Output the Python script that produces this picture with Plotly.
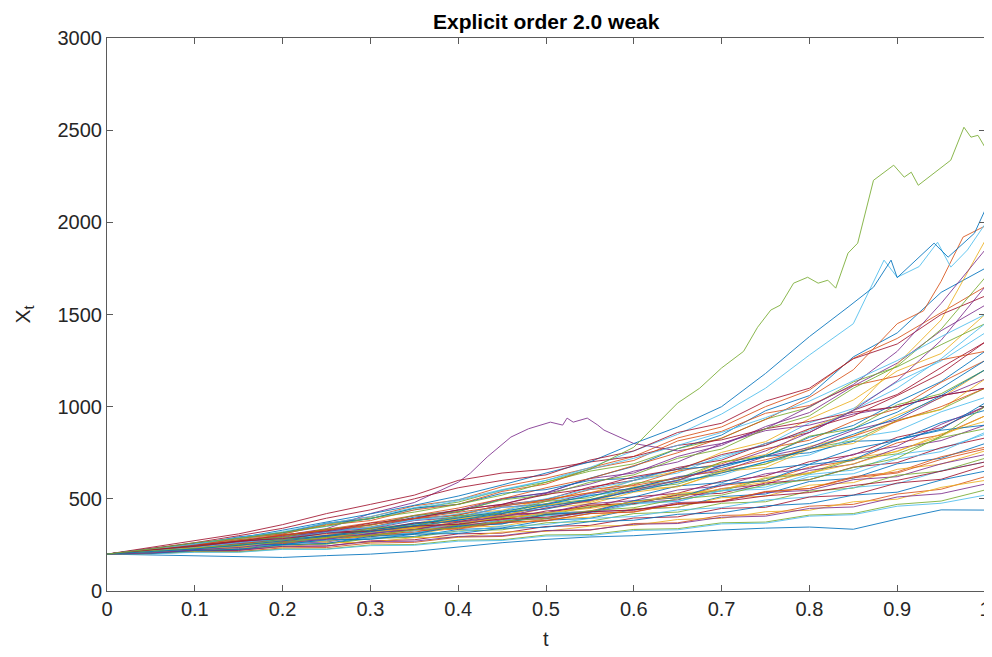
import plotly.graph_objects as go

# ---------------- data ----------------
T = [0.0, 0.05, 0.1, 0.15, 0.2, 0.25, 0.3, 0.35, 0.4, 0.45, 0.5,
     0.55, 0.6, 0.65, 0.7, 0.75, 0.8, 0.85, 0.9, 0.95, 1.0]

x_ticks = [0, 0.1, 0.2, 0.3, 0.4, 0.5, 0.6, 0.7, 0.8, 0.9, 1]
y_ticks = [0, 500, 1000, 1500, 2000, 2500, 3000]

# highlighted paths with their own time stamps
green_top_t = [0, 0.05, 0.1, 0.15, 0.2, 0.25, 0.3, 0.35, 0.4, 0.45, 0.5, 0.55, 0.6, 0.625,
               0.65, 0.675, 0.7, 0.725, 0.741, 0.756, 0.767, 0.782, 0.798, 0.81, 0.821, 0.83,
               0.844, 0.855, 0.873, 0.896, 0.908, 0.916, 0.924, 0.961, 0.976, 0.984, 0.992, 1.0]
green_top_x = [200, 228, 262, 285, 318, 352, 395, 428, 470, 520, 590, 660, 780, 900,
               1020, 1100, 1210, 1300, 1431, 1524, 1551, 1670, 1702, 1670, 1686, 1643,
               1833, 1887, 2228, 2310, 2245, 2272, 2201, 2337, 2516, 2462, 2472, 2407]

blue_top_t = [0, 0.05, 0.1, 0.15, 0.2, 0.25, 0.3, 0.35, 0.4, 0.45, 0.5, 0.55, 0.6, 0.65, 0.7,
              0.75, 0.8, 0.844, 0.873, 0.893, 0.9, 0.942, 0.958, 0.988, 1.0]
blue_top_x = [200, 228, 258, 288, 330, 372, 418, 465, 515, 575, 640, 700, 800, 890, 1000,
              1180, 1380, 1540, 1648, 1795, 1700, 1887, 1811, 1941, 2066]

cyan_top_t = [0, 0.05, 0.1, 0.15, 0.2, 0.25, 0.3, 0.35, 0.4, 0.45, 0.5, 0.55, 0.6, 0.65, 0.7,
              0.75, 0.8, 0.85, 0.885, 0.9, 0.925, 0.946, 0.961, 0.98, 1.0]
cyan_top_x = [200, 225, 250, 280, 315, 350, 395, 440, 490, 545, 600, 670, 760, 850, 960,
              1100, 1280, 1450, 1795, 1702, 1760, 1892, 1757, 1850, 1990]

red_top_t = [0, 0.05, 0.1, 0.15, 0.2, 0.25, 0.3, 0.35, 0.4, 0.45, 0.5, 0.55, 0.6, 0.65, 0.7,
             0.75, 0.8, 0.85, 0.9, 0.93, 0.95, 0.975, 1.0]
red_top_x = [200, 222, 248, 270, 300, 335, 370, 410, 450, 500, 560, 610, 680, 750, 830,
             930, 1050, 1200, 1450, 1520, 1680, 1920, 1980]

purple_hump_t = [0, 0.05, 0.1, 0.15, 0.2, 0.25, 0.3, 0.35, 0.4, 0.414, 0.433, 0.46, 0.48,
                 0.505, 0.519, 0.524, 0.531, 0.547, 0.559, 0.566, 0.6, 0.65, 0.7, 0.75,
                 0.8, 0.85, 0.9, 0.95, 1.0]
purple_hump_x = [200, 224, 246, 270, 302, 338, 420, 480, 590, 640, 727, 835, 880,
                 916, 900, 938, 916, 938, 900, 873, 800, 760, 800, 870,
                 900, 960, 1000, 1060, 1100]

bottom_blue_x = [200, 196, 192, 188, 182, 192, 200, 215, 240, 262, 280, 293, 300, 315,
                 331, 341, 347, 335, 390, 440, 439]

# bulk paths on the common time grid T
path_01 = [200, 222, 236, 268, 284, 326, 342, 401, 430, 498, 532, 612, 676, 772, 846, 978, 1060, 1270, 1400, 1620, 1750]
path_02 = [200, 228, 248, 290, 316, 366, 402, 462, 494, 566, 612, 668, 730, 830, 890, 1000, 1090, 1262, 1370, 1512, 1650]
path_03 = [200, 212, 242, 254, 288, 304, 342, 364, 418, 438, 498, 532, 600, 650, 752, 810, 934, 1036, 1194, 1288, 1500]
path_04 = [200, 224, 236, 272, 294, 334, 358, 408, 438, 502, 532, 610, 640, 730, 790, 892, 968, 1112, 1236, 1412, 1550]
path_05 = [200, 226, 246, 286, 308, 362, 392, 448, 482, 548, 590, 650, 690, 772, 828, 932, 996, 1134, 1216, 1336, 1450]
path_06 = [200, 210, 236, 250, 286, 300, 342, 360, 408, 434, 490, 522, 600, 640, 732, 790, 912, 990, 1134, 1248, 1400]
path_07 = [200, 220, 232, 264, 282, 324, 342, 392, 412, 468, 496, 564, 600, 670, 710, 800, 860, 980, 1066, 1212, 1350]
path_08 = [200, 208, 228, 242, 276, 288, 326, 344, 388, 408, 464, 492, 560, 600, 682, 730, 834, 898, 1024, 1136, 1300]
path_09 = [200, 224, 242, 276, 290, 332, 348, 392, 412, 464, 486, 550, 576, 650, 690, 772, 818, 922, 988, 1132, 1250]
path_10 = [200, 206, 226, 236, 268, 280, 318, 334, 380, 398, 450, 472, 536, 566, 642, 690, 784, 840, 954, 1048, 1200]
path_11 = [200, 222, 238, 268, 284, 322, 338, 382, 400, 454, 472, 530, 556, 620, 650, 730, 778, 872, 928, 1052, 1150]
path_12 = [200, 213, 236, 248, 282, 294, 334, 354, 400, 420, 474, 496, 556, 580, 652, 688, 774, 816, 926, 986, 1100]
path_13 = [200, 224, 236, 270, 284, 326, 344, 388, 402, 454, 470, 520, 540, 602, 628, 702, 738, 832, 868, 972, 1050]
path_14 = [200, 210, 232, 242, 272, 282, 318, 332, 372, 388, 434, 452, 510, 530, 596, 624, 702, 738, 834, 886, 1000]
path_15 = [200, 220, 234, 266, 276, 316, 328, 370, 384, 428, 444, 494, 510, 570, 588, 662, 688, 772, 816, 914, 980]
path_16 = [200, 208, 228, 236, 264, 272, 306, 318, 360, 372, 418, 434, 488, 506, 572, 598, 672, 708, 804, 846, 950]
path_17 = [200, 222, 234, 264, 270, 304, 314, 350, 360, 402, 416, 464, 478, 530, 548, 616, 642, 722, 756, 852, 920]
path_18 = [200, 206, 224, 230, 258, 266, 302, 312, 356, 366, 414, 426, 478, 494, 556, 578, 654, 688, 774, 816, 900]
path_19 = [200, 218, 230, 256, 264, 298, 308, 346, 356, 400, 410, 458, 470, 524, 542, 610, 636, 714, 744, 832, 880]
path_20 = [200, 208, 226, 234, 262, 270, 304, 314, 352, 364, 408, 420, 472, 486, 546, 564, 632, 656, 740, 772, 850]
path_21 = [200, 224, 240, 272, 284, 318, 328, 368, 376, 416, 424, 466, 474, 520, 530, 586, 604, 672, 696, 778, 830]
path_22 = [200, 204, 220, 224, 250, 256, 288, 296, 334, 342, 384, 394, 444, 454, 512, 526, 594, 612, 690, 720, 800]
path_23 = [200, 216, 226, 252, 256, 286, 294, 326, 336, 370, 380, 420, 428, 474, 486, 540, 556, 620, 646, 728, 780]
path_24 = [200, 210, 230, 238, 264, 270, 302, 308, 346, 352, 392, 400, 446, 454, 506, 514, 574, 588, 660, 688, 760]
path_25 = [200, 222, 236, 264, 270, 302, 310, 344, 348, 386, 392, 430, 438, 480, 486, 534, 546, 604, 620, 690, 740]
path_26 = [200, 206, 222, 226, 250, 254, 284, 292, 326, 332, 370, 378, 420, 428, 476, 484, 542, 558, 628, 650, 720]
path_27 = [200, 216, 224, 248, 250, 278, 284, 314, 320, 352, 360, 394, 404, 440, 452, 494, 510, 562, 582, 652, 700]
path_28 = [200, 204, 218, 220, 242, 244, 272, 278, 310, 314, 350, 356, 396, 402, 448, 454, 510, 520, 586, 606, 680]
path_29 = [200, 218, 226, 250, 252, 278, 280, 308, 312, 340, 346, 376, 384, 416, 424, 462, 474, 520, 536, 602, 650]
path_30 = [200, 203, 214, 214, 234, 236, 260, 264, 292, 296, 326, 330, 366, 370, 410, 414, 460, 470, 526, 552, 620]
path_31 = [200, 212, 216, 236, 238, 262, 264, 290, 292, 320, 324, 352, 356, 388, 394, 430, 438, 484, 498, 562, 600]
path_32 = [200, 206, 220, 222, 242, 244, 268, 270, 296, 300, 328, 332, 362, 366, 400, 406, 448, 456, 510, 528, 580]
path_33 = [200, 202, 212, 212, 228, 228, 250, 252, 276, 278, 304, 306, 334, 338, 370, 374, 412, 420, 470, 488, 548]
path_34 = [200, 201, 210, 210, 226, 226, 246, 248, 270, 274, 298, 300, 328, 332, 364, 368, 406, 414, 460, 476, 520]
path_35 = [200, 236, 270, 310, 360, 420, 470, 520, 600, 640, 660, 700, 730, 790, 820, 880, 920, 970, 1000, 1060, 1100]
path_36 = [200, 228, 252, 294, 316, 368, 392, 450, 470, 530, 550, 600, 612, 660, 680, 730, 750, 812, 820, 872, 900]
path_37 = [200, 226, 246, 286, 310, 358, 382, 440, 470, 540, 580, 662, 708, 814, 866, 964, 1006, 1114, 1166, 1254, 1300]
path_38 = [200, 212, 234, 246, 278, 290, 330, 342, 392, 404, 468, 486, 566, 594, 700, 740, 880, 980, 1230, 1470, 1900]
path_39 = [200, 220, 230, 258, 266, 300, 312, 352, 364, 408, 424, 474, 490, 548, 570, 636, 664, 742, 786, 904, 1000]
path_40 = [200, 210, 234, 246, 282, 294, 340, 354, 408, 422, 486, 506, 584, 610, 700, 730, 840, 880, 1010, 1070, 1200]
path_41 = [200, 210, 230, 238, 270, 278, 318, 326, 372, 378, 424, 430, 480, 486, 544, 552, 620, 636, 716, 756, 860]
path_42 = [200, 232, 262, 300, 340, 395, 440, 500, 560, 600, 630, 710, 760, 860, 910, 1030, 1100, 1260, 1340, 1500, 1600]
path_43 = [200, 204, 220, 226, 252, 258, 296, 310, 352, 364, 416, 428, 490, 506, 580, 598, 686, 712, 820, 878, 1020]
path_44 = [200, 220, 232, 260, 268, 296, 302, 334, 340, 374, 382, 420, 430, 474, 488, 538, 556, 614, 640, 714, 770]
path_45 = [200, 208, 230, 240, 276, 288, 332, 344, 396, 408, 468, 480, 550, 566, 648, 670, 770, 800, 924, 984, 1150]
path_46 = [200, 218, 244, 262, 296, 320, 360, 392, 440, 470, 530, 580, 650, 700, 800, 880, 1000, 1120, 1300, 1560, 1850]
path_47 = [200, 224, 240, 276, 292, 336, 356, 410, 432, 494, 520, 590, 630, 720, 770, 880, 950, 1100, 1220, 1420, 1700]
path_48 = [200, 216, 236, 262, 284, 318, 346, 384, 418, 460, 500, 552, 600, 664, 720, 800, 870, 980, 1100, 1260, 1450]
path_49 = [200, 222, 250, 270, 304, 326, 368, 394, 440, 470, 524, 556, 620, 660, 740, 790, 880, 950, 1060, 1180, 1350]
path_50 = [200, 210, 232, 250, 276, 300, 330, 362, 396, 432, 470, 516, 560, 614, 670, 736, 800, 880, 970, 1100, 1250]
path_51 = [200, 226, 248, 276, 300, 330, 360, 392, 424, 460, 494, 532, 570, 612, 660, 712, 770, 840, 920, 1000, 1100]
path_52 = [200, 214, 234, 250, 274, 292, 320, 340, 370, 392, 424, 448, 484, 512, 554, 590, 640, 690, 760, 840, 950]
path_53 = [200, 206, 224, 236, 262, 280, 312, 334, 374, 404, 450, 490, 548, 600, 680, 760, 860, 980, 1140, 1360, 1650]
path_54 = [200, 218, 230, 252, 262, 290, 300, 332, 344, 380, 394, 436, 452, 500, 520, 576, 604, 670, 720, 840, 1000]
path_55 = [200, 226, 254, 290, 322, 366, 404, 452, 496, 550, 600, 660, 720, 790, 860, 940, 1030, 1140, 1250, 1380, 1500]
path_56 = [200, 224, 242, 270, 284, 312, 324, 352, 362, 392, 400, 430, 440, 470, 484, 516, 534, 572, 600, 650, 700]
path_57 = [200, 212, 228, 248, 270, 296, 322, 352, 384, 420, 456, 496, 540, 590, 640, 700, 770, 850, 940, 1060, 1200]

bulk_paths = [path_01, path_02, path_03, path_04, path_05, path_06, path_07, path_08, path_09,
              path_10, path_11, path_12, path_13, path_14, path_15, path_16, path_17, path_18,
              path_19, path_20, path_21, path_22, path_23, path_24, path_25, path_26, path_27,
              path_28, path_29, path_30, path_31, path_32, path_33, path_34, path_35, path_36,
              path_37, path_38, path_39, path_40, path_41, path_42, path_43, path_44, path_45,
              path_46, path_47, path_48, path_49, path_50, path_51, path_52, path_53, path_54,
              path_55, path_56, path_57]

# ---------------- styling ----------------
MATLAB = ['#0072BD', '#D95319', '#EDB120', '#7E2F8E', '#77AC30', '#4DBEEE', '#A2142F']
AXIS_COLOR = '#5a5a5a'
FONT = 'Liberation Sans, Arial, Helvetica, sans-serif'

fig = go.Figure()


def add_line(t, x, color):
    fig.add_trace(go.Scatter(x=t, y=x, mode='lines',
                             line=dict(color=color, width=1),
                             opacity=0.85, showlegend=False, hoverinfo='skip'))


for i, p in enumerate(bulk_paths):
    add_line(T, p, MATLAB[i % len(MATLAB)])
    if i == 10:
        add_line(purple_hump_t, purple_hump_x, MATLAB[3])
    if i == 20:
        add_line(red_top_t, red_top_x, MATLAB[1])
    if i == 25:
        add_line(T, bottom_blue_x, MATLAB[0])
    if i == 30:
        add_line(cyan_top_t, cyan_top_x, MATLAB[5])
    if i == 35:
        add_line(blue_top_t, blue_top_x, MATLAB[0])
add_line(green_top_t, green_top_x, MATLAB[4])

axis_common = dict(showgrid=False, zeroline=False, showline=True, linecolor=AXIS_COLOR,
                   linewidth=1, mirror='ticks', ticks='inside', ticklen=6,
                   tickcolor=AXIS_COLOR, tickwidth=1, automargin=False,
                   tickfont=dict(family=FONT, size=20, color='#262626'))

# the page adds an 8 px body margin; plot area spans x 107..985, y 38..591 in the window
fig.update_layout(
    width=984, height=641,
    margin=dict(l=99, r=7, t=30, b=58),
    paper_bgcolor='white', plot_bgcolor='white',
    xaxis=dict(range=[0, 1], tickvals=x_ticks, ticktext=[f'{v:g}' for v in x_ticks],
               **axis_common),
    yaxis=dict(range=[0, 3000], tickvals=y_ticks, ticktext=[str(v) for v in y_ticks],
               **axis_common),
    annotations=[
        dict(text='<b>Explicit order 2.0 weak</b>', xref='paper', yref='paper',
             x=0.5, y=1, xanchor='center', yanchor='middle', yshift=17, showarrow=False,
             font=dict(family=FONT, size=21, color='#000000')),
        dict(text='t', xref='paper', yref='paper', x=0.5, y=0, xanchor='center',
             yanchor='middle', yshift=-48, showarrow=False,
             font=dict(family=FONT, size=20, color='#262626')),
        dict(text='X<sub>t</sub>', xref='paper', yref='paper', x=0, y=0.5,
             xanchor='center', yanchor='middle', xshift=-84, textangle=-90,
             showarrow=False, font=dict(family=FONT, size=21, color='#262626')),
    ],
)

fig.write_html('out.html')
